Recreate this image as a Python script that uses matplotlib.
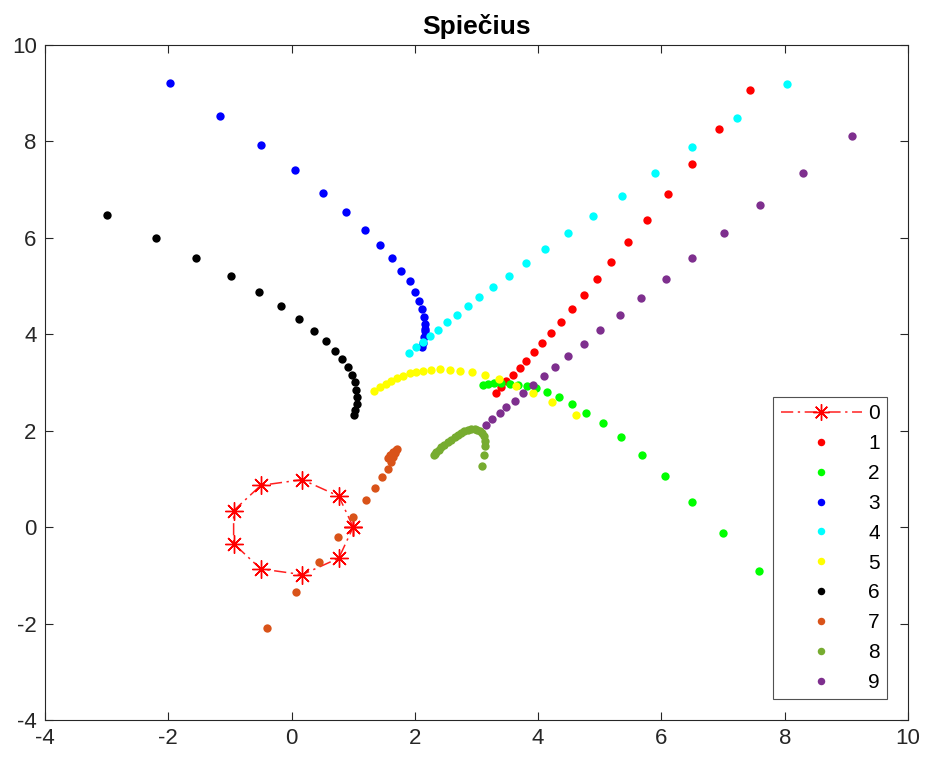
import matplotlib
matplotlib.use("Agg")
import matplotlib.pyplot as plt

plt.rcParams["font.family"] = ["Liberation Sans", "DejaVu Sans"]
plt.rcParams["axes.unicode_minus"] = False

# unit circle (series 0)
x0 = [1.0, 0.766, 0.174, -0.5, -0.940, -0.940, -0.5, 0.174, 0.766, 1.0]
y0 = [0.0, 0.643, 0.985, 0.866, 0.342, -0.342, -0.866, -0.985, -0.643, 0.0]

x1 = [7.434, 6.937, 6.493, 6.104, 5.763, 5.455, 5.186, 4.947, 4.736, 4.547,
      4.363, 4.206, 4.060, 3.925, 3.807, 3.698, 3.585, 3.483, 3.390, 3.309]
y1 = [9.066, 8.251, 7.537, 6.915, 6.376, 5.907, 5.504, 5.145, 4.824, 4.523,
      4.253, 4.025, 3.813, 3.624, 3.450, 3.305, 3.154, 3.023, 2.898, 2.780]

x2 = [7.580, 7.002, 6.500, 6.066, 5.677, 5.341, 5.045, 4.777, 4.545, 4.334,
      4.144, 3.969, 3.817, 3.674, 3.536, 3.401, 3.277, 3.184, 3.106]
y2 = [-0.919, -0.131, 0.519, 1.058, 1.500, 1.861, 2.151, 2.375, 2.558, 2.703,
      2.811, 2.880, 2.919, 2.956, 2.977, 2.992, 2.981, 2.967, 2.946]

x3 = [-1.979, -1.168, -0.503, 0.060, 0.514, 0.884, 1.189, 1.435, 1.633, 1.776,
      1.914, 1.995, 2.065, 2.114, 2.141, 2.157, 2.160, 2.157, 2.146, 2.130, 2.120]
y3 = [9.218, 8.527, 7.925, 7.400, 6.936, 6.529, 6.168, 5.855, 5.575, 5.322,
      5.098, 4.869, 4.689, 4.523, 4.351, 4.212, 4.120, 4.073, 3.936, 3.817, 3.728]

x4 = [8.045, 7.229, 6.504, 5.893, 5.353, 4.882, 4.480, 4.115, 3.796, 3.520,
      3.272, 3.038, 2.855, 2.676, 2.526, 2.373, 2.243, 2.125, 2.011, 1.901]
y4 = [9.197, 8.492, 7.878, 7.338, 6.874, 6.459, 6.093, 5.761, 5.471, 5.214,
      4.979, 4.766, 4.585, 4.405, 4.247, 4.094, 3.956, 3.838, 3.728, 3.620]

x5 = [4.607, 4.225, 3.914, 3.633, 3.366, 3.131, 2.931, 2.736, 2.563, 2.401,
      2.255, 2.130, 2.023, 1.914, 1.812, 1.715, 1.617, 1.525, 1.427, 1.330]
y5 = [2.317, 2.587, 2.786, 2.936, 3.071, 3.164, 3.216, 3.241, 3.263, 3.272,
      3.263, 3.243, 3.222, 3.189, 3.139, 3.091, 3.029, 2.967, 2.898, 2.815]

x6 = [-2.996, -2.201, -1.546, -0.989, -0.535, -0.178, 0.118, 0.362, 0.556, 0.706,
      0.819, 0.908, 0.976, 1.025, 1.051, 1.062, 1.058, 1.030, 1.011]
y6 = [6.473, 5.990, 5.591, 5.201, 4.869, 4.579, 4.315, 4.073, 3.859, 3.662,
      3.481, 3.320, 3.164, 3.002, 2.838, 2.701, 2.562, 2.423, 2.317]

x7 = [-0.401, 0.065, 0.443, 0.757, 0.994, 1.200, 1.358, 1.471, 1.562, 1.617,
      1.646, 1.679, 1.698, 1.705, 1.650, 1.600, 1.560]
y7 = [-2.102, -1.342, -0.720, -0.201, 0.201, 0.554, 0.815, 1.031, 1.203, 1.342,
      1.452, 1.535, 1.598, 1.620, 1.560, 1.500, 1.440]

x8 = [3.093, 3.114, 3.136, 3.139, 3.123, 3.090, 3.049, 3.010, 2.968, 2.915,
      2.860, 2.805, 2.753, 2.700, 2.644, 2.590, 2.535, 2.480, 2.428, 2.385,
      2.347, 2.325, 2.308]
y8 = [1.272, 1.494, 1.674, 1.795, 1.894, 1.945, 1.985, 2.015, 2.033, 2.028,
      2.012, 1.985, 1.950, 1.908, 1.861, 1.810, 1.757, 1.705, 1.654, 1.600,
      1.550, 1.520, 1.494]

x9 = [9.088, 8.300, 7.607, 7.012, 6.500, 6.075, 5.669, 5.328, 5.004, 4.737,
      4.488, 4.277, 4.088, 3.914, 3.758, 3.617, 3.483, 3.374, 3.255, 3.147]
y9 = [8.118, 7.344, 6.680, 6.093, 5.581, 5.145, 4.751, 4.409, 4.087, 3.797,
      3.554, 3.326, 3.127, 2.946, 2.780, 2.620, 2.483, 2.359, 2.241, 2.116]

dot_series = [(x1, y1), (x2, y2), (x3, y3), (x4, y4), (x5, y5),
              (x6, y6), (x7, y7), (x8, y8), (x9, y9)]
colors = ["#FF0000", "#00FF00", "#0000FF", "#00FFFF", "#FFFF00",
          "#000000", "#D95319", "#77AC30", "#7E2F8E"]
labels = ["0", "1", "2", "3", "4", "5", "6", "7", "8", "9"]

fig = plt.figure(figsize=(9.29, 7.58), dpi=100)
ax = fig.add_axes([45 / 929, 1 - 720 / 758, 863 / 929, 675 / 758])

ax.plot(x0, y0, color="#FF2020", linestyle=(0, (8, 3, 1.5, 3)), linewidth=1.1,
        marker=(8, 2, 0), markersize=13, markeredgewidth=1.0,
        markeredgecolor="#FF0000", label=labels[0])

for (xs, ys), c, lab in zip(dot_series, colors, labels[1:]):
    ax.plot(xs, ys, linestyle="none", marker="o", markersize=6,
            markeredgewidth=0, color=c, label=lab)

ax.set_xlim(-4, 10)
ax.set_ylim(-4, 10)
ax.set_xticks(range(-4, 11, 2))
ax.set_yticks(range(-4, 11, 2))

axis_gray = "#262626"
for s in ax.spines.values():
    s.set_color(axis_gray)
    s.set_linewidth(0.8)
ax.tick_params(direction="in", top=True, right=True, length=6, width=0.8,
               color=axis_gray, labelcolor=axis_gray, labelsize=16, pad=6)

ax.set_title("Spiečius", fontsize=19, fontweight="bold", pad=8)

leg = ax.legend(loc="lower right", fontsize=15, frameon=True, fancybox=False,
                edgecolor="#262626", handlelength=3.9, handletextpad=0.3,
                labelspacing=0.52, borderpad=0.35, borderaxespad=1.0,
                markerscale=0.9)
leg.get_frame().set_linewidth(0.8)

fig.savefig("out.png", dpi=100)
